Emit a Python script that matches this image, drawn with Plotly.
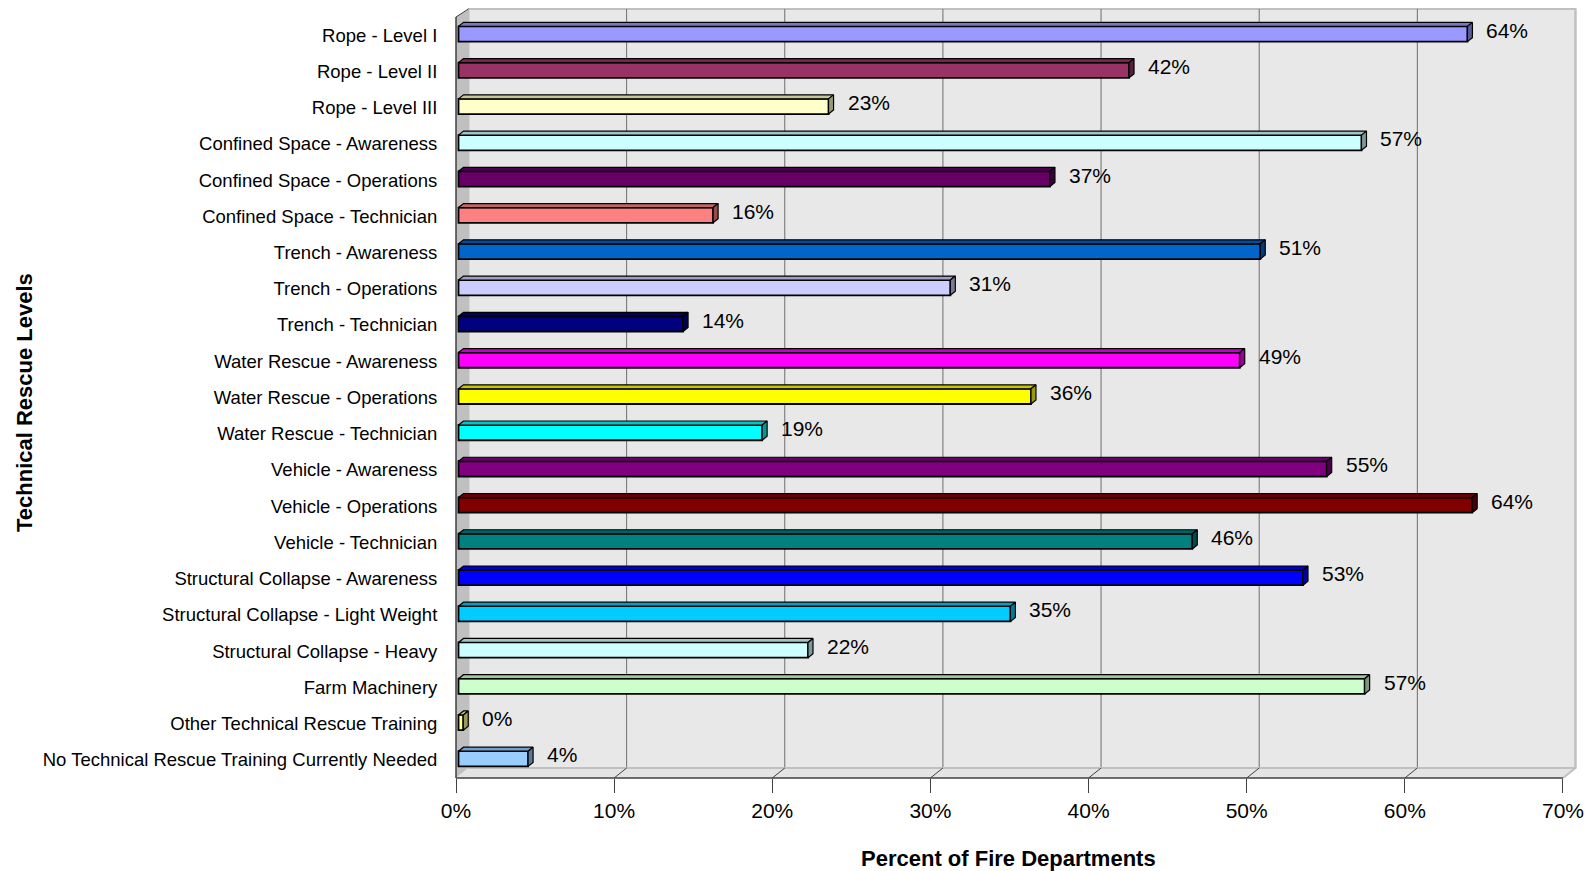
import plotly.graph_objects as go

# ---------------- data ----------------
categories = [
    "Rope - Level I",
    "Rope - Level II",
    "Rope - Level III",
    "Confined Space - Awareness",
    "Confined Space - Operations",
    "Confined Space - Technician",
    "Trench - Awareness",
    "Trench - Operations",
    "Trench - Technician",
    "Water Rescue - Awareness",
    "Water Rescue - Operations",
    "Water Rescue - Technician",
    "Vehicle - Awareness",
    "Vehicle - Operations",
    "Vehicle - Technician",
    "Structural Collapse - Awareness",
    "Structural Collapse - Light Weight",
    "Structural Collapse - Heavy",
    "Farm Machinery",
    "Other Technical Rescue Training",
    "No Technical Rescue Training Currently Needed",
]
values = [63.8, 42.4, 23.4, 57.1, 37.4, 16.1, 50.7, 31.1, 14.2, 49.4, 36.2,
          19.2, 54.9, 64.1, 46.4, 53.4, 34.9, 22.1, 57.3, 0.3, 4.4]
colors = ["#9999FF", "#993366", "#FFFFCC", "#CCFFFF", "#660066", "#FF8080",
          "#0066CC", "#CCCCFF", "#000080", "#FF00FF", "#FFFF00", "#00FFFF",
          "#800080", "#800000", "#008080", "#0000FF", "#00CCFF", "#CCFFFF",
          "#CCFFCC", "#FFFF99", "#99CCFF"]
x_ticks = [0, 10, 20, 30, 40, 50, 60, 70]
x_tick_labels = ["0%", "10%", "20%", "30%", "40%", "50%", "60%", "70%"]
x_title = "Percent of Fire Departments"
y_title = "Technical Rescue Levels"

# ---------------- geometry / style ----------------
W, H = 1589, 871
ML, MR, MT, MB = 456, 7, 3, 93
PX_PER_PCT = 15.814
SLOT_PX = 36.24
plot_w = W - ML - MR
plot_h = H - MT - MB
x_max = plot_w / PX_PER_PCT
n = len(categories)
y_bottom = n - 0.5
y_top = y_bottom - plot_h / SLOT_PX

FONT = "Arial, 'Liberation Sans', sans-serif"


def ux(px):
    return px / PX_PER_PCT


def uy(px):
    return px / SLOT_PX


def xp(u):
    return u / x_max


def yp(u):
    return (y_bottom - u) / (y_bottom - y_top)


def shade(hexcol, f):
    h = hexcol.lstrip("#")
    r, g, b = (int(h[i:i + 2], 16) for i in (0, 2, 4))
    return "rgb(%d,%d,%d)" % (r * f, g * f, b * f)


# wall depth
DX = ux(12.5)
front_top = -0.5
back_top = front_top - uy(8)
front_bot = y_bottom
back_bot = y_bottom - uy(10)
x_end = x_ticks[-1]
back_right = x_end + DX

shapes = []


def path(pts):
    s = "M %f,%f" % (xp(pts[0][0]), yp(pts[0][1]))
    for a, b in pts[1:]:
        s += " L %f,%f" % (xp(a), yp(b))
    return s + " Z"


def line(x0, y0, x1, y1, color, width, layer="below"):
    shapes.append(dict(type="line", xref="paper", yref="paper",
                       x0=xp(x0), y0=yp(y0), x1=xp(x1), y1=yp(y1),
                       line=dict(color=color, width=width), layer=layer))


# back wall
shapes.append(dict(type="path", xref="paper", yref="paper",
                   path=path([(DX, back_top), (back_right, back_top),
                              (back_right, back_bot), (DX, back_bot)]),
                   fillcolor="#E8E8E8", line=dict(color="#C0C0C0", width=2),
                   layer="below"))
# gridlines on back wall
for v in x_ticks[1:-1]:
    line(v + DX, back_bot, v + DX, back_top, "#6E6E6E", 1)
# side wall
shapes.append(dict(type="path", xref="paper", yref="paper",
                   path=path([(0, front_top), (DX, back_top),
                              (DX, back_bot), (0, front_bot)]),
                   fillcolor="#C0C0C0", line=dict(width=0), layer="below"))
# floor
shapes.append(dict(type="path", xref="paper", yref="paper",
                   path=path([(0, front_bot), (DX, back_bot),
                              (back_right, back_bot), (x_end, front_bot)]),
                   fillcolor="#E4E4E4", line=dict(width=0), layer="below"))
line(DX, back_bot, back_right, back_bot, "#C0C0C0", 2)
line(x_end, front_bot, back_right, back_bot, "#C0C0C0", 2)
line(back_right, back_top, back_right, back_bot, "#C0C0C0", 2)
# tick connectors on floor
for v in x_ticks[1:-1]:
    line(v, front_bot, v + DX, back_bot, "#404040", 1)
# front axis lines
line(0, front_bot, x_end, front_bot, "#404040", 1.5, "above")
line(0, front_top, 0, front_bot, "#404040", 1.5, "above")
line(0, front_top, DX, back_top, "#404040", 1, "above")

# ---------------- bars ----------------
BAR_SHIFT = ux(2.5)
BAR_W = 0.42
BAR_OFF = -0.24
DDX = ux(5)
DDY = uy(4)
ys = list(range(n))

fig = go.Figure()
fig.add_trace(go.Bar(
    y=ys, x=values, base=[BAR_SHIFT] * n, orientation="h",
    width=BAR_W, offset=BAR_OFF,
    marker=dict(color=colors, line=dict(color="black", width=1.8)),
    hoverinfo="skip", showlegend=False))

for i, (v, c) in enumerate(zip(values, colors)):
    x0 = BAR_SHIFT
    x1 = BAR_SHIFT + v
    yt = i + BAR_OFF
    yb = yt + BAR_W
    # top face
    fig.add_trace(go.Scatter(
        x=[x0, x1, x1 + DDX, x0 + DDX, x0],
        y=[yt, yt, yt - DDY, yt - DDY, yt],
        mode="lines", fill="toself", fillcolor=shade(c, 0.78),
        line=dict(color="black", width=1.2), hoverinfo="skip",
        showlegend=False, cliponaxis=False))
    # side face
    fig.add_trace(go.Scatter(
        x=[x1, x1 + DDX, x1 + DDX, x1, x1],
        y=[yt, yt - DDY, yb - DDY, yb, yt],
        mode="lines", fill="toself", fillcolor=shade(c, 0.6),
        line=dict(color="black", width=1.2), hoverinfo="skip",
        showlegend=False, cliponaxis=False))

annotations = []
for i, v in enumerate(values):
    annotations.append(dict(
        x=BAR_SHIFT + v, y=i, xref="x", yref="y", text="%.0f%%" % v,
        showarrow=False, xanchor="left", yanchor="middle",
        xshift=17, yshift=5, font=dict(family=FONT, size=21, color="black")))

annotations.append(dict(
    x=(1008 - ML) / plot_w, y=-(858 - (H - MB)) / plot_h,
    xref="paper", yref="paper", text="<b>%s</b>" % x_title, showarrow=False,
    xanchor="center", yanchor="middle",
    font=dict(family=FONT, size=22, color="black")))
annotations.append(dict(
    x=(24 - ML) / plot_w, y=((H - MB) - 403) / plot_h,
    xref="paper", yref="paper", text="<b>%s</b>" % y_title, showarrow=False,
    textangle=-90, xanchor="center", yanchor="middle",
    font=dict(family=FONT, size=22, color="black")))

fig.update_layout(
    width=W, height=H,
    margin=dict(l=ML, r=MR, t=MT, b=MB, pad=0),
    paper_bgcolor="white", plot_bgcolor="rgba(0,0,0,0)",
    showlegend=False, hovermode=False,
    shapes=shapes, annotations=annotations,
    xaxis=dict(range=[0, x_max], tickvals=x_ticks, ticktext=x_tick_labels,
               ticks="outside", ticklen=14, tickwidth=1, tickcolor="#404040",
               showgrid=False, zeroline=False, showline=False,
               tickfont=dict(family=FONT, size=21, color="black")),
    yaxis=dict(range=[y_bottom, y_top], tickvals=ys, ticktext=categories,
               ticks="outside", ticklen=14, tickcolor="rgba(0,0,0,0)",
               showgrid=False, zeroline=False, showline=False,
               tickfont=dict(family=FONT, size=18.5, color="black")),
    yaxis2=dict(range=[y_bottom, y_top], overlaying="y", side="left",
                anchor="x",
                tickvals=[k - 0.5 for k in range(n + 1)],
                ticks="outside", ticklen=14, tickwidth=1, tickcolor="#404040",
                showticklabels=False, showgrid=False, zeroline=False,
                showline=False),
)

fig.write_html(
    "out.html",
    config={"displayModeBar": False},
    post_script="document.body.style.margin='0';"
                "document.body.style.overflow='hidden';",
)
